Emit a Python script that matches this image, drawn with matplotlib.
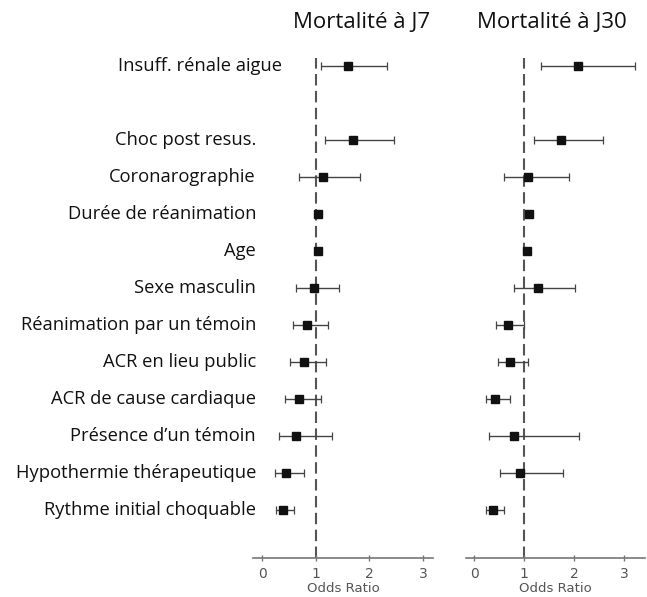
import numpy as np
import matplotlib
matplotlib.use("Agg")
import matplotlib.pyplot as plt
from matplotlib.transforms import blended_transform_factory

categories = [
    "Insuff. rénale aigue", "", "Choc post resus.", "Coronarographie",
    "Durée de réanimation", "Age", "Sexe masculin",
    "Réanimation par un témoin", "ACR en lieu public",
    "ACR de cause cardiaque", "Présence d\u2019un témoin",
    "Hypothermie thérapeutique", "Rythme initial choquable",
]
nan = np.nan
j7_or = [1.60, nan, 1.70, 1.13, 1.05, 1.04, 0.96, 0.84, 0.79, 0.68, 0.63, 0.44, 0.39]
j7_low = [1.09, nan, 1.18, 0.69, 1.03, 1.02, 0.63, 0.57, 0.52, 0.42, 0.32, 0.24, 0.26]
j7_high = [2.32, nan, 2.45, 1.82, 1.07, 1.06, 1.44, 1.22, 1.19, 1.09, 1.30, 0.79, 0.59]

j30_or = [2.07, nan, 1.74, 1.07, 1.09, 1.05, 1.27, 0.67, 0.71, 0.42, 0.79, 0.92, 0.37]
j30_low = [1.33, nan, 1.19, 0.60, 1.07, 1.03, 0.79, 0.43, 0.47, 0.24, 0.30, 0.51, 0.23]
j30_high = [3.22, nan, 2.57, 1.89, 1.11, 1.07, 2.01, 0.99, 1.07, 0.72, 2.09, 1.77, 0.60]

titles = ["Mortalité à J7", "Mortalité à J30"]
xticks = [0, 1, 2, 3]
xlabel = "Odds Ratio"

W, H = 647, 597
fig = plt.figure(figsize=(W / 100, H / 100), dpi=100)

label_font = "Open Sans"
axes_px = [(253, 433, (-0.168, 3.184)), (466, 645, (-0.16, 3.42))]
series = [(j7_or, j7_low, j7_high), (j30_or, j30_low, j30_high)]
title_x = [362, 552]

y = np.arange(len(categories))
axs = []
for (x0, x1, xl), (orv, lo, hi), ttl, tx in zip(axes_px, series, titles, title_x):
    ax = fig.add_axes([x0 / W, (H - 558) / H, (x1 - x0) / W, 500 / H])
    orv = np.array(orv); lo = np.array(lo); hi = np.array(hi)
    m = ~np.isnan(orv)
    ax.axvline(1, color="#555555", lw=1.5, linestyle=(0, (5.5, 2.6)), zorder=1)
    ax.errorbar(orv[m], y[m], xerr=[orv[m] - lo[m], hi[m] - orv[m]],
                fmt="s", color="#111111", ecolor="#444444", elinewidth=1.0,
                capsize=2.8, capthick=0.9, markersize=6.2, zorder=3)
    ax.set_xlim(*xl)
    ax.set_ylim((558 - 66) / 37, (58 - 66) / 37)
    for s in ["top", "right", "left"]:
        ax.spines[s].set_visible(False)
    ax.spines["bottom"].set_color("#777777")
    ax.spines["bottom"].set_linewidth(1.2)
    ax.set_yticks([])
    ax.set_xticks(xticks)
    ax.tick_params(axis="x", direction="inout", length=5, width=1, colors="#777777",
                   labelcolor="#555555", labelsize=10, pad=4)
    ax.set_xlabel(xlabel, fontsize=9.5, color="#555555", labelpad=0.5)
    fig.text(tx / W, 1 - 23 / H, ttl, ha="center", va="center",
             fontsize=16, color="#111111", family=label_font)
    axs.append(ax)

trans = blended_transform_factory(fig.transFigure, axs[0].transData)
for i, cat in enumerate(categories):
    if not cat:
        continue
    xr = 282 if i == 0 else 256
    fig.text(xr / W, i, cat, transform=trans, ha="right", va="center",
             fontsize=13.2, color="#111111", family=label_font)

fig.savefig("out.png", dpi=100, facecolor="white")
